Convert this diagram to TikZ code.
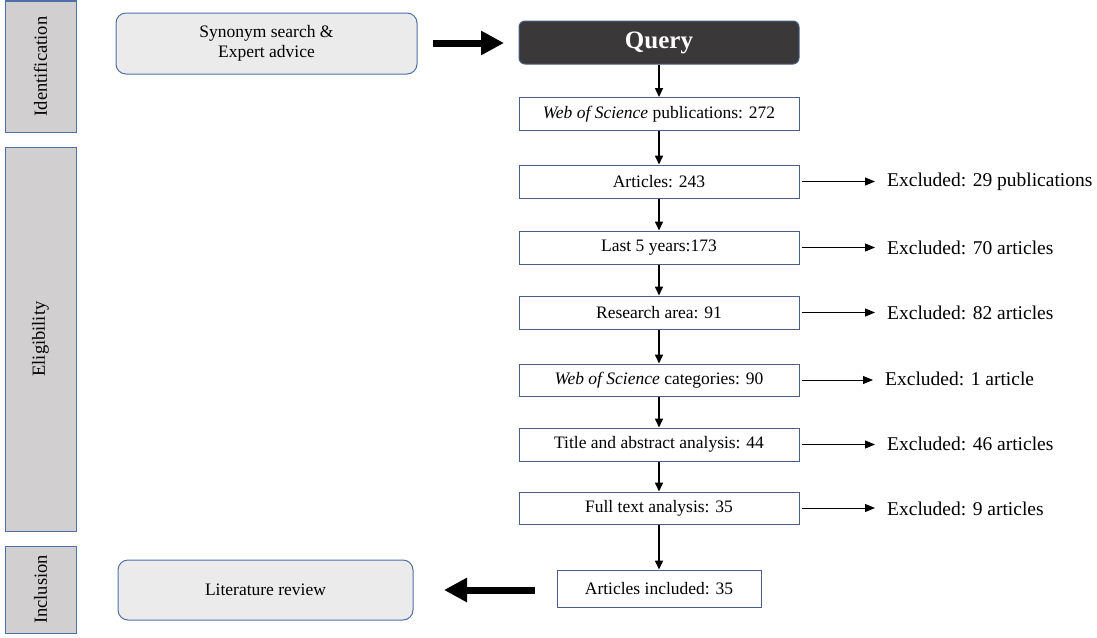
\documentclass[tikz,border=0pt]{standalone}
\usepackage{fontspec}
\setmainfont{Liberation Serif}
\usetikzlibrary{arrows.meta}
\definecolor{barfill}{HTML}{D1CFCF}
\definecolor{barline}{HTML}{4F6FAA}
\definecolor{boxline}{HTML}{4A5E86}
\definecolor{roundfill}{HTML}{ECEBEC}
\definecolor{queryfill}{HTML}{3A3838}
\tikzset{
  sidebar/.style={draw=barline, fill=barfill, line width=1pt, minimum width=71pt, inner sep=0pt},
  sidelabel/.style={rotate=90, font=\fontsize{18.5}{20}\selectfont},
  stepbox/.style={draw=boxline, fill=white, line width=1pt, minimum width=280pt, minimum height=33pt, inner sep=0pt, font=\fontsize{17.5}{20}\selectfont},
  roundbox/.style={draw=barline, fill=roundfill, line width=1pt, rounded corners=10pt, inner sep=0pt, font=\fontsize{17.5}{20}\selectfont, align=center},
  excl/.style={anchor=west, inner sep=0pt, font=\fontsize{19.5}{22}\selectfont},
  flow/.style={line width=1.6pt, -{Triangle[length=9pt,width=8pt]}},
  sideflow/.style={line width=1pt, -{Triangle[length=10pt,width=8pt]}},
  bigflow/.style={line width=7pt, -{Triangle[length=23pt,width=23pt]}},
}
\begin{document}
\begin{tikzpicture}[x=1pt,y=-1pt]
\useasboundingbox (0,0) rectangle (1097,637);
% side bars
\node[sidebar, minimum height=131pt] (idbar) at (40.5,66.5) {};
\node[sidelabel] (idlab) at (idbar.center) {Identification};
\node[sidebar, minimum height=384pt] (elbar) at (40.5,339) {};
\node[sidelabel] (ellab) at (elbar.center) {Eligibility};
\node[sidebar, minimum height=87pt] (inbar) at (40.5,589.5) {};
\node[sidelabel] (inlab) at (inbar.center) {Inclusion};
% left rounded boxes
\node[roundbox, minimum width=301pt, minimum height=61pt] (syn) at (266.5,43.5) {Synonym search \&\\Expert advice};
\node[roundbox, minimum width=295pt, minimum height=60pt] (lit) at (265.5,590) {Literature review};
% query
\node[draw=boxline, fill=queryfill, line width=1pt, rounded corners=6pt, minimum width=280pt, minimum height=43pt, inner sep=0pt, text=white, font=\fontsize{25}{28}\selectfont\bfseries] (query) at (659,42.5) {Query};
% steps
\node[stepbox] (wos) at (659,114) {\textit{Web of Science} publications: 272};
\node[stepbox] (art) at (659,181.5) {Articles: 243};
\node[stepbox] (last) at (659,247.5) {Last 5 years:173};
\node[stepbox] (res) at (659,312.5) {Research area: 91};
\node[stepbox, minimum height=32pt] (cat) at (659,380) {\textit{Web of Science} categories: 90};
\node[stepbox] (tit) at (659,444.5) {Title and abstract analysis: 44};
\node[stepbox, minimum height=32pt] (full) at (659,508) {Full text analysis: 35};
\node[stepbox, minimum width=204pt, minimum height=37pt] (inc) at (659,588.5) {Articles included: 35};
% excluded
\node[excl] (e1) at (887,182) {Excluded: 29 publications};
\node[excl] (e2) at (887,248) {Excluded: 70 articles};
\node[excl] (e3) at (887,313) {Excluded: 82 articles};
\node[excl] (e4) at (885,379) {Excluded: 1 article};
\node[excl] (e5) at (887,444) {Excluded: 46 articles};
\node[excl] (e6) at (887,509) {Excluded: 9 articles};
% vertical flow
\draw[flow] (query) -- (wos);
\draw[flow] (wos) -- (art);
\draw[flow] (art) -- (last);
\draw[flow] (last) -- (res);
\draw[flow] (res) -- (cat);
\draw[flow] (cat) -- (tit);
\draw[flow] (tit) -- (full);
\draw[flow] (full) -- (inc);
% exclusions
\foreach \b/\e in {art/e1,last/e2,res/e3,cat/e4,tit/e5,full/e6}
  \draw[sideflow] ([xshift=2pt]\b.east) -- ([xshift=-12pt]\e.west |- \b.east);
% big arrows
\coordinate (bra) at (433,43);
\coordinate (brb) at (504,43);
\draw[bigflow] (bra) -- (brb);
\coordinate (bla) at (535,590);
\coordinate (blb) at (444,590);
\draw[bigflow] (bla) -- (blb);
\end{tikzpicture}
\end{document}
